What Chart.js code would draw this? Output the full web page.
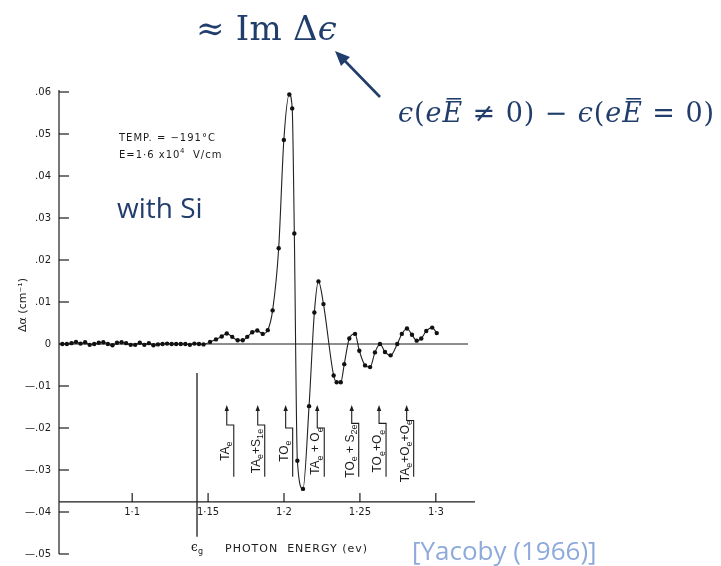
<!DOCTYPE html>
<html lang="en">
<head>
    <meta charset="UTF-8">
    <title>Electroabsorption in Si</title>
    <style>
        body {
            margin: 0;
            padding: 0;
            background: #ffffff;
        }
        #chart {
            display: block;
        }
    </style>
    <script src="https://cdn.jsdelivr.net/npm/chart.js"></script>
</head>
<body>
    <canvas id="chart" width="721" height="566"></canvas>
    <script>
        // photon energy (eV) and change of absorption Δα (cm^-1)
        const energies = [
            1.054, 1.057, 1.060, 1.063, 1.066, 1.069, 1.072, 1.075, 1.078, 1.081,
            1.084, 1.087, 1.090, 1.093, 1.096, 1.099, 1.102, 1.105, 1.108, 1.111,
            1.114, 1.117, 1.120, 1.123, 1.126, 1.129, 1.132, 1.135, 1.138, 1.141,
            1.144, 1.147,
            1.1513, 1.1552, 1.1590, 1.1623, 1.1659, 1.1695, 1.1728, 1.1758, 1.1791, 1.1824,
            1.1860, 1.1893, 1.1925, 1.1965, 1.1999, 1.2035, 1.2054, 1.2068, 1.2088, 1.2125,
            1.2165, 1.2200, 1.2227, 1.2260, 1.2327, 1.2347, 1.2374, 1.2397, 1.2430, 1.2468,
            1.2496, 1.2534, 1.2567, 1.2599, 1.2632, 1.2665, 1.2702, 1.2746, 1.2776, 1.2810,
            1.2843, 1.2874, 1.2904, 1.2937, 1.2976, 1.3006
        ];
        const deltaAlpha = [
            0, 0, 0.0002, 0.0005, 0.0001, 0.0004, -0.0002, 0, 0.0003, 0.0004,
            0, -0.0003, 0.0003, 0.0004, 0.0002, -0.0002, -0.0002, 0.0003, -0.0002, 0.0002,
            -0.0003, -0.0001, 0, 0.0001, 0, 0, 0, 0, -0.0002, 0.0001,
            0, -0.0001,
            0.0005, 0.0011, 0.0018, 0.0025, 0.0017, 0.0009, 0.0009, 0.0017, 0.0028, 0.0032,
            0.0024, 0.0033, 0.0080, 0.0228, 0.0486, 0.0594, 0.0561, 0.0263, -0.0278, -0.0345,
            -0.0148, 0.0075, 0.0149, 0.0095, -0.0075, -0.0091, -0.0091, -0.0048, 0.0013, 0.0024,
            -0.0016, -0.0051, -0.0055, -0.0020, 0.0000, -0.0019, -0.0027, 0.0000, 0.0024, 0.0037,
            0.0022, 0.0008, 0.0013, 0.0031, 0.0039, 0.0026
        ];

        const yTickValues = [0.06, 0.05, 0.04, 0.03, 0.02, 0.01, 0, -0.01, -0.02, -0.03, -0.04, -0.05];
        const yTickLabels = ['.06', '.05', '.04', '.03', '.02', '.01', '0', '—.01', '—.02', '—.03', '—.04', '—.05'];
        const xTickValues = [1.1, 1.15, 1.2, 1.25, 1.3];
        const xTickLabels = ['1·1', '1·15', '1·2', '1·25', '1·3'];

        // phonon-assisted thresholds marked below the curve
        const phononEnergies = [1.1623, 1.1827, 1.2011, 1.2219, 1.2446, 1.2626, 1.2808];
        const phononLabels = [
            [['TA'], ['e', 1]],
            [['TA'], ['e', 1], ['+S'], ['1e', 1]],
            [['TO'], ['e', 1]],
            [['TA'], ['e', 1], [' + O'], ['e', 1]],
            [['TO'], ['e', 1], [' + S'], ['2e', 1]],
            [['TO'], ['e', 1], ['+O'], ['e', 1]],
            [['TA'], ['e', 1], ['+O'], ['e', 1], ['+O'], ['e', 1]]
        ];
        const gapEnergy = 1.1427;

        const ink = '#1c1c1c';
        const navy = '#213d6c';
        const serif = "'DejaVu Serif', 'Liberation Serif', serif";

        function line(ctx, x1, y1, x2, y2) {
            ctx.beginPath();
            ctx.moveTo(x1, y1);
            ctx.lineTo(x2, y2);
            ctx.stroke();
        }

        // draws text pieces side by side; piece = [text, subscript?]
        function richText(ctx, pieces, x, y, size, family) {
            let widths = pieces.map(p => {
                ctx.font = (p[1] ? Math.round(size * 0.72) : size) + 'px ' + family;
                return ctx.measureText(p[0]).width;
            });
            let total = widths.reduce((a, b) => a + b, 0);
            let cx = x - total / 2;
            pieces.forEach((p, i) => {
                ctx.font = (p[1] ? Math.round(size * 0.72) : size) + 'px ' + family;
                ctx.fillText(p[0], cx, y + (p[1] ? size * 0.3 : 0));
                cx += widths[i];
            });
        }

        // math-style text: [text, italic?, overbar?], spread to the given width
        function mathText(ctx, pieces, x, y, size, width) {
            const fontOf = p => (p[1] ? 'italic ' : '') + size + 'px ' + serif;
            ctx.letterSpacing = '0px';
            let total = 0, chars = 0;
            pieces.forEach(p => {
                ctx.font = fontOf(p);
                total += ctx.measureText(p[0]).width;
                chars += [...p[0]].length;
            });
            const spacing = Math.max(0, (width - total) / chars);
            ctx.letterSpacing = spacing + 'px';
            let cx = x;
            pieces.forEach(p => {
                ctx.font = fontOf(p);
                let w = ctx.measureText(p[0]).width;
                ctx.fillText(p[0], cx, y);
                if (p[2]) {
                    ctx.lineWidth = 1.6;
                    line(ctx, cx + w * 0.2, y - size * 0.86, cx + w * 0.9, y - size * 0.86);
                }
                cx += w;
            });
            ctx.letterSpacing = '0px';
        }

        const paperAxes = {
            id: 'paperAxes',
            beforeDatasetsDraw(chart) {
                const {ctx, scales: {x, y}} = chart;
                ctx.save();
                ctx.strokeStyle = ink;
                ctx.fillStyle = ink;
                ctx.lineWidth = 1.2;

                // vertical axis with inward ticks
                line(ctx, x.left, y.getPixelForValue(0.0605), x.left, y.getPixelForValue(-0.05));
                ctx.font = "10px 'DejaVu Sans', sans-serif";
                ctx.textAlign = 'right';
                ctx.textBaseline = 'middle';
                yTickValues.forEach((v, i) => {
                    const py = y.getPixelForValue(v);
                    line(ctx, x.left, py, x.left + 10, py);
                    ctx.fillText(yTickLabels[i], x.left - 8, py);
                });

                // horizontal axis drawn across the lower part of the panel
                const axisY = y.getPixelForValue(-0.0376);
                line(ctx, x.left, axisY, x.right, axisY);
                ctx.textAlign = 'center';
                ctx.textBaseline = 'top';
                xTickValues.forEach((v, i) => {
                    const px = x.getPixelForValue(v);
                    line(ctx, px, axisY, px, axisY - 9);
                    ctx.fillText(xTickLabels[i], px, axisY + 5);
                });

                // zero line
                ctx.lineWidth = 1;
                line(ctx, x.left, y.getPixelForValue(0), x.getPixelForValue(1.3212), y.getPixelForValue(0));

                // band gap marker
                ctx.lineWidth = 1.3;
                const gx = x.getPixelForValue(gapEnergy);
                line(ctx, gx, y.getPixelForValue(-0.0069), gx, y.getPixelForValue(-0.0459));
                ctx.textBaseline = 'alphabetic';
                ctx.textAlign = 'left';
                ctx.font = "12px 'DejaVu Serif', serif";
                ctx.fillText('ϵ', gx - 6, 551);
                ctx.font = "8px 'DejaVu Sans', sans-serif";
                ctx.fillText('g', gx + 1, 554);
                ctx.font = "11px 'DejaVu Sans', sans-serif";
                ctx.letterSpacing = '1px';
                ctx.fillText('PHOTON  ENERGY (ev)', 225, 552);
                ctx.letterSpacing = '0px';

                // axis title
                ctx.save();
                ctx.translate(26, 305);
                ctx.rotate(-Math.PI / 2);
                ctx.textAlign = 'center';
                ctx.font = "11px 'DejaVu Sans', sans-serif";
                ctx.fillText('Δα (cm⁻¹)', 0, 0);
                ctx.restore();

                // phonon threshold arrows and labels
                const tipY = y.getPixelForValue(-0.015);
                const stepLevels = [-0.0193, -0.0193, -0.02, -0.02, -0.0189, -0.0189, -0.0182];
                const bottomY = y.getPixelForValue(-0.0316);
                phononEnergies.forEach((e, i) => {
                    const px = x.getPixelForValue(e);
                    const sy = y.getPixelForValue(stepLevels[i]);
                    const dx = 7;
                    ctx.lineWidth = 1.1;
                    ctx.beginPath();
                    ctx.moveTo(px, tipY + 3);
                    ctx.lineTo(px, sy);
                    ctx.lineTo(px + dx, sy);
                    ctx.lineTo(px + dx, bottomY);
                    ctx.stroke();
                    ctx.beginPath();
                    ctx.moveTo(px, tipY - 2);
                    ctx.lineTo(px - 2.2, tipY + 4);
                    ctx.lineTo(px + 2.2, tipY + 4);
                    ctx.closePath();
                    ctx.fill();

                    ctx.save();
                    ctx.translate(px + dx - 3, y.getPixelForValue(-0.0255));
                    ctx.rotate(-Math.PI / 2);
                    ctx.textAlign = 'left';
                    ctx.textBaseline = 'alphabetic';
                    richText(ctx, phononLabels[i], 0, -2, 12, "'Liberation Sans', sans-serif");
                    ctx.restore();
                });
                ctx.restore();
            },
            afterDraw(chart) {
                const ctx = chart.ctx;
                ctx.save();
                ctx.fillStyle = ink;
                ctx.textAlign = 'left';
                ctx.textBaseline = 'alphabetic';
                ctx.font = "10px 'DejaVu Sans', sans-serif";
                ctx.letterSpacing = '1px';
                ctx.fillText('TEMP. = −191°C', 119, 141);
                ctx.fillText('E=1·6 x10', 119, 158);
                ctx.font = "7px 'DejaVu Sans', sans-serif";
                ctx.fillText('4', 180, 153);
                ctx.font = "10px 'DejaVu Sans', sans-serif";
                ctx.fillText('V/cm', 193, 158);
                ctx.letterSpacing = '0px';

                ctx.fillStyle = navy;
                ctx.strokeStyle = navy;
                ctx.font = "28px 'Open Sans', sans-serif";
                ctx.fillText('with Si', 117, 218);

                // heading and the difference it stands for
                mathText(ctx, [['≈ Im Δ'], ['ϵ', 1]], 196, 40, 34, 141);
                mathText(ctx, [['ϵ', 1], ['('], ['e', 1], ['E', 1, 1], [' ≠ 0) − '], ['ϵ', 1], ['('], ['e', 1], ['E', 1, 1], [' = 0)']], 398, 122, 27, 317);

                ctx.lineWidth = 2.6;
                line(ctx, 380, 97, 345, 61);
                ctx.beginPath();
                ctx.moveTo(335, 51);
                ctx.lineTo(350, 57);
                ctx.lineTo(341, 66);
                ctx.closePath();
                ctx.fill();

                ctx.fillStyle = '#8eaadb';
                ctx.font = "26px 'Open Sans', sans-serif";
                ctx.fillText('[Yacoby (1966)]', 412, 560);
                ctx.restore();
            }
        };

        const points = energies.map((e, i) => ({x: e, y: deltaAlpha[i]}));

        new Chart(document.getElementById('chart'), {
            type: 'scatter',
            data: {
                datasets: [{
                    data: points,
                    showLine: true,
                    borderColor: '#222222',
                    borderWidth: 1.1,
                    backgroundColor: '#111111',
                    pointRadius: 2.2,
                    pointBorderWidth: 0,
                    cubicInterpolationMode: 'monotone'
                }]
            },
            options: {
                responsive: false,
                animation: false,
                devicePixelRatio: 1,
                layout: {
                    padding: {left: 59, right: 246, top: 92, bottom: 12}
                },
                plugins: {
                    legend: {display: false},
                    tooltip: {enabled: false}
                },
                scales: {
                    x: {type: 'linear', min: 1.0518, max: 1.3258, display: false},
                    y: {type: 'linear', min: -0.05, max: 0.06, display: false}
                }
            },
            plugins: [paperAxes]
        });
    </script>
</body>
</html>
